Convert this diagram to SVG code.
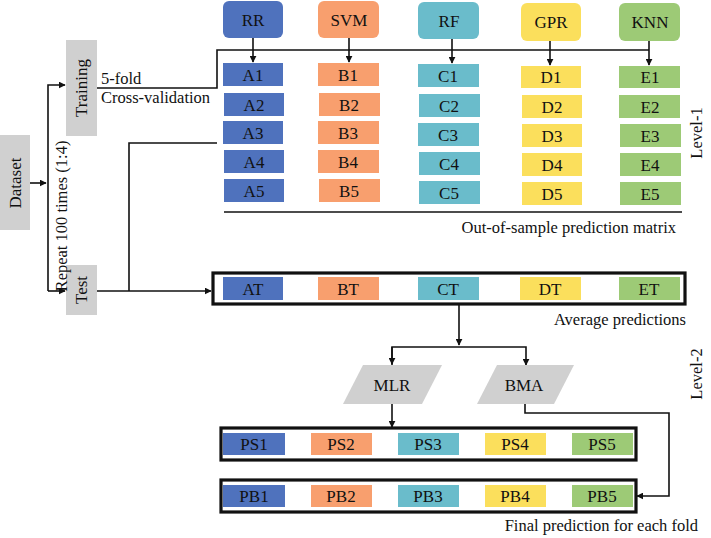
<svg xmlns="http://www.w3.org/2000/svg" width="711" height="538" viewBox="0 0 711 538">
<style>
text{font-family:"Liberation Serif","Times New Roman",serif;fill:#111;}
.lbl{font-size:17px;text-anchor:middle;}
.cap{font-size:16.5px;}
.ln{fill:none;stroke:#111;stroke-width:1.6;}
.frame{fill:#fff;stroke:#111;stroke-width:3.2;}
.gray{fill:#d0d0d0;}
.b{fill:#4f72bd;}
.o{fill:#f89f6e;}
.t{fill:#6abccb;}
.y{fill:#fbdf5c;}
.g{fill:#9dca76;}
</style>
<defs>
<marker id="ah" viewBox="0 0 10 10" refX="9" refY="5" markerWidth="7" markerHeight="7" markerUnits="userSpaceOnUse" orient="auto">
<path d="M0,0 L10,5 L0,10 z" fill="#111"/>
</marker>
</defs>

<g id="connectors">
<path class="ln" d="M30,183 H46" marker-end="url(#ah)"/>
<path class="ln" d="M48,291 V85 H65" marker-end="url(#ah)"/>
<path class="ln" d="M48,291 H65" marker-end="url(#ah)"/>
<path class="ln" d="M97,88 H217 V50 H649"/>
<path class="ln" d="M97,291 H211" marker-end="url(#ah)"/>
<path class="ln" d="M129,291 V143 H217"/>
<path class="ln" d="M253,38 V62" marker-end="url(#ah)"/>
<path class="ln" d="M349,38 V62" marker-end="url(#ah)"/>
<path class="ln" d="M452,39 V63" marker-end="url(#ah)"/>
<path class="ln" d="M550,41 V65" marker-end="url(#ah)"/>
<path class="ln" d="M649,41 V65" marker-end="url(#ah)"/>
<path class="ln" d="M224,212 H682" stroke-width="2"/>
<path class="ln" d="M459,304 V345" marker-end="url(#ah)"/>
<path class="ln" d="M392,365 V347 H526 V365" marker-end="url(#ah)"/>
<path class="ln" d="M392,347 V364" marker-end="url(#ah)"/>
<path class="ln" d="M392,404 V427" marker-end="url(#ah)"/>
<path class="ln" d="M525,404 V413 H669 V496 H637" marker-end="url(#ah)"/>
</g>

<g id="dataset"><rect class="gray" x="0" y="135" width="30" height="95"/><text class="lbl" transform="translate(21,183) rotate(-90)">Dataset</text></g>
<g id="training"><rect class="gray" x="66" y="40" width="31" height="96"/><text class="lbl" transform="translate(87,88) rotate(-90)">Training</text></g>
<g id="test"><rect class="gray" x="66" y="265" width="31" height="50"/><text class="lbl" transform="translate(87,290) rotate(-90)">Test</text></g>
<g id="repeat-label"><text class="cap" text-anchor="middle" transform="translate(67,216) rotate(-90)">Repeat 100 times (1:4)</text></g>
<g id="cv-label"><text class="cap" x="101" y="84">5-fold</text><text class="cap" x="101" y="103">Cross-validation</text></g>

<g id="model-RR"><rect class="b" x="223" y="1" width="60" height="37" rx="6"/><text class="lbl" x="253" y="26">RR</text></g>
<g id="model-SVM"><rect class="o" x="318" y="1" width="61" height="37" rx="6"/><text class="lbl" x="349" y="26">SVM</text></g>
<g id="model-RF"><rect class="t" x="418" y="2" width="61" height="37" rx="6"/><text class="lbl" x="449" y="27">RF</text></g>
<g id="model-GPR"><rect class="y" x="521" y="3" width="60" height="38" rx="6"/><text class="lbl" x="551" y="28">GPR</text></g>
<g id="model-KNN"><rect class="g" x="619" y="3" width="61" height="38" rx="6"/><text class="lbl" x="650" y="28">KNN</text></g>

<g id="col-A">
<rect class="b" x="223" y="63" width="60" height="23"/><text class="lbl" x="253" y="80.5">A1</text>
<rect class="b" x="224" y="93" width="60" height="23"/><text class="lbl" x="254" y="110.5">A2</text>
<rect class="b" x="223" y="121" width="60" height="23"/><text class="lbl" x="253" y="138.5">A3</text>
<rect class="b" x="224" y="150" width="60" height="23"/><text class="lbl" x="254" y="167.5">A4</text>
<rect class="b" x="224" y="179" width="60" height="23"/><text class="lbl" x="254" y="196.5">A5</text>
</g>
<g id="col-B">
<rect class="o" x="318" y="63" width="61" height="23"/><text class="lbl" x="348" y="80.5">B1</text>
<rect class="o" x="319" y="93" width="61" height="23"/><text class="lbl" x="349" y="110.5">B2</text>
<rect class="o" x="318" y="121" width="61" height="23"/><text class="lbl" x="348" y="138.5">B3</text>
<rect class="o" x="318" y="150" width="61" height="23"/><text class="lbl" x="348" y="167.5">B4</text>
<rect class="o" x="319" y="179" width="61" height="23"/><text class="lbl" x="349" y="196.5">B5</text>
</g>
<g id="col-C">
<rect class="t" x="418" y="64" width="61" height="23"/><text class="lbl" x="448" y="81.5">C1</text>
<rect class="t" x="419" y="94" width="61" height="23"/><text class="lbl" x="449" y="111.5">C2</text>
<rect class="t" x="418" y="123" width="61" height="23"/><text class="lbl" x="448" y="140.5">C3</text>
<rect class="t" x="419" y="152" width="61" height="23"/><text class="lbl" x="449" y="169.5">C4</text>
<rect class="t" x="419" y="181" width="61" height="23"/><text class="lbl" x="449" y="198.5">C5</text>
</g>
<g id="col-D">
<rect class="y" x="521" y="66" width="60" height="22"/><text class="lbl" x="551" y="83">D1</text>
<rect class="y" x="522" y="95" width="60" height="23"/><text class="lbl" x="552" y="112.5">D2</text>
<rect class="y" x="522" y="124" width="60" height="23"/><text class="lbl" x="552" y="141.5">D3</text>
<rect class="y" x="522" y="153" width="60" height="23"/><text class="lbl" x="552" y="170.5">D4</text>
<rect class="y" x="522" y="182" width="60" height="23"/><text class="lbl" x="552" y="199.5">D5</text>
</g>
<g id="col-E">
<rect class="g" x="619" y="66" width="61" height="22"/><text class="lbl" x="650" y="83">E1</text>
<rect class="g" x="619" y="95" width="61" height="23"/><text class="lbl" x="650" y="112.5">E2</text>
<rect class="g" x="620" y="124" width="61" height="23"/><text class="lbl" x="650" y="141.5">E3</text>
<rect class="g" x="620" y="153" width="61" height="23"/><text class="lbl" x="650" y="170.5">E4</text>
<rect class="g" x="620" y="182" width="61" height="23"/><text class="lbl" x="650" y="199.5">E5</text>
</g>
<g id="oos-label"><text class="cap" x="676" y="233" text-anchor="end">Out-of-sample prediction matrix</text></g>
<g id="level1"><text class="cap" text-anchor="middle" transform="translate(702,133) rotate(-90)">Level-1</text></g>

<g id="average">
<rect class="frame" x="213" y="273" width="472" height="31"/>
<rect class="b" x="223" y="277" width="60" height="23"/><text class="lbl" x="253" y="294.5">AT</text>
<rect class="o" x="318" y="277" width="61" height="23"/><text class="lbl" x="348" y="294.5">BT</text>
<rect class="t" x="418" y="277" width="61" height="23"/><text class="lbl" x="448" y="294.5">CT</text>
<rect class="y" x="520" y="277" width="61" height="23"/><text class="lbl" x="550" y="294.5">DT</text>
<rect class="g" x="619" y="277" width="61" height="23"/><text class="lbl" x="649" y="294.5">ET</text>
</g>
<g id="avg-label"><text class="cap" x="686" y="325" text-anchor="end">Average predictions</text></g>
<g id="level2"><text class="cap" text-anchor="middle" transform="translate(702,374) rotate(-90)">Level-2</text></g>

<g id="MLR"><polygon class="gray" points="363,365 442,365 422,404 343,404"/><text class="lbl" x="392" y="391">MLR</text></g>
<g id="BMA"><polygon class="gray" points="497,365 574,365 554,404 477,404"/><text class="lbl" x="524" y="391">BMA</text></g>

<g id="PS">
<rect class="frame" x="221" y="428" width="415" height="32"/>
<rect class="b" x="223" y="433" width="62" height="22"/><text class="lbl" x="254" y="450">PS1</text>
<rect class="o" x="311" y="433" width="61" height="22"/><text class="lbl" x="341" y="450">PS2</text>
<rect class="t" x="398" y="433" width="61" height="22"/><text class="lbl" x="428" y="450">PS3</text>
<rect class="y" x="485" y="433" width="61" height="22"/><text class="lbl" x="515" y="450">PS4</text>
<rect class="g" x="572" y="433" width="61" height="22"/><text class="lbl" x="602" y="450">PS5</text>
</g>
<g id="PB">
<rect class="frame" x="221" y="480" width="415" height="32"/>
<rect class="b" x="223" y="485" width="62" height="22"/><text class="lbl" x="254" y="502">PB1</text>
<rect class="o" x="311" y="485" width="61" height="22"/><text class="lbl" x="341" y="502">PB2</text>
<rect class="t" x="398" y="485" width="61" height="22"/><text class="lbl" x="428" y="502">PB3</text>
<rect class="y" x="485" y="485" width="61" height="22"/><text class="lbl" x="515" y="502">PB4</text>
<rect class="g" x="572" y="485" width="61" height="22"/><text class="lbl" x="602" y="502">PB5</text>
</g>
<g id="final-label"><text class="cap" x="698" y="531" text-anchor="end">Final prediction for each fold</text></g>
</svg>
